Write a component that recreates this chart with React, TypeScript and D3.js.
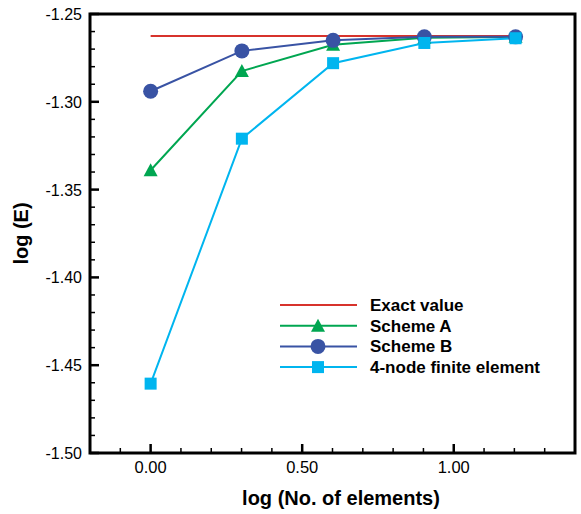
import React, { useEffect, useRef } from "react";
import * as d3 from "d3";

// log10 of number of elements: 1, 2, 4, 8, 16
const logN = [0, 0.301, 0.602, 0.903, 1.204];
const exactValue = [-1.2625, -1.2625, -1.2625, -1.2625, -1.2625];
const schemeA = [-1.339, -1.2825, -1.2675, -1.2635, -1.263];
const schemeB = [-1.294, -1.271, -1.265, -1.263, -1.263];
const fourNode = [-1.4605, -1.321, -1.278, -1.2665, -1.2638];

const yMajorTicks = [-1.5, -1.45, -1.4, -1.35, -1.3, -1.25];
const xMajorTicks = [0, 0.5, 1.0];

const series = [
  { name: "Exact value", values: exactValue, color: "#d7332c", marker: "none" },
  { name: "Scheme A", values: schemeA, color: "#00a651", marker: "triangle" },
  { name: "Scheme B", values: schemeB, color: "#3953a4", marker: "circle" },
  { name: "4-node finite element", values: fourNode, color: "#00b5ef", marker: "square" },
];

const W = 581;
const H = 514;
const FONT = "'Liberation Sans', Arial, Helvetica, sans-serif";

// plain hyphen as minus sign, like the original
const fmt = (d) => d3.format(".2f")(d).replace("\u2212", "-");

const App = () => {
  const svgRef = useRef(null);

  useEffect(() => {
    const svg = d3.select(svgRef.current);
    svg.selectAll("*").remove();

    const left = 90, right = 575, top = 14, bottom = 453;

    const x = d3.scaleLinear().domain([-0.2, 1.4]).range([left, right]);
    const y = d3.scaleLinear().domain([-1.5, -1.25]).range([bottom, top]);

    // minor ticks
    const xMinor = d3.range(-1, 14).map((i) => i / 10).filter((v) => Math.abs(v * 2 - Math.round(v * 2)) > 1e-6);
    const yMinor = d3.range(0, 26).map((i) => -1.5 + i * 0.01).filter((v) => Math.abs(v * 20 - Math.round(v * 20)) > 1e-6);

    const g = svg.append("g");

    g.selectAll("line.xminor").data(xMinor).enter().append("line")
      .attr("x1", (d) => x(d)).attr("x2", (d) => x(d))
      .attr("y1", bottom).attr("y2", bottom - 5)
      .attr("stroke", "#000").attr("stroke-width", 1.5);
    g.selectAll("line.xmajor").data(xMajorTicks).enter().append("line")
      .attr("x1", (d) => x(d)).attr("x2", (d) => x(d))
      .attr("y1", bottom).attr("y2", bottom - 9)
      .attr("stroke", "#000").attr("stroke-width", 2.5);
    g.selectAll("line.yminor").data(yMinor).enter().append("line")
      .attr("x1", left).attr("x2", left + 5)
      .attr("y1", (d) => y(d)).attr("y2", (d) => y(d))
      .attr("stroke", "#000").attr("stroke-width", 1.5);
    g.selectAll("line.ymajor").data(yMajorTicks).enter().append("line")
      .attr("x1", left).attr("x2", left + 9)
      .attr("y1", (d) => y(d)).attr("y2", (d) => y(d))
      .attr("stroke", "#000").attr("stroke-width", 2.5);

    // frame
    g.append("rect")
      .attr("x", left).attr("y", top)
      .attr("width", right - left).attr("height", bottom - top)
      .attr("fill", "none").attr("stroke", "#000").attr("stroke-width", 3);

    // tick labels
    g.selectAll("text.ylab").data(yMajorTicks).enter().append("text")
      .attr("x", left - 8).attr("y", (d) => y(d) + 6)
      .attr("text-anchor", "end")
      .style("font-family", FONT).style("font-size", "16px")
      .text(fmt);
    g.selectAll("text.xlab").data(xMajorTicks).enter().append("text")
      .attr("x", (d) => x(d)).attr("y", bottom + 20)
      .attr("text-anchor", "middle")
      .style("font-family", FONT).style("font-size", "16.5px")
      .text(fmt);

    // axis titles
    g.append("text")
      .attr("x", 341).attr("y", 505)
      .attr("text-anchor", "middle")
      .style("font-family", FONT).style("font-size", "20px").style("font-weight", "bold")
      .text("log (No. of elements)");
    g.append("text")
      .attr("transform", `translate(28,${(top + bottom) / 2}) rotate(-90)`)
      .attr("text-anchor", "middle")
      .style("font-family", FONT).style("font-size", "20px").style("font-weight", "bold")
      .text("log (E)");

    const line = d3.line<number>().x((_, i) => x(logN[i])).y((d) => y(d));

    const drawMarker = (sel, marker, color, cx, cy) => {
      if (marker === "circle") {
        sel.append("circle").attr("cx", cx).attr("cy", cy).attr("r", 7.5).attr("fill", color);
      } else if (marker === "triangle") {
        sel.append("path")
          .attr("d", `M${cx},${cy - 7} L${cx + 7},${cy + 6} L${cx - 7},${cy + 6} Z`)
          .attr("fill", color);
      } else if (marker === "square") {
        sel.append("rect").attr("x", cx - 6).attr("y", cy - 6).attr("width", 12).attr("height", 12).attr("fill", color);
      }
    };

    // draw order: exact, A, B, 4-node on top
    series.forEach((s) => {
      g.append("path")
        .datum(s.values)
        .attr("d", line)
        .attr("fill", "none")
        .attr("stroke", s.color)
        .attr("stroke-width", 2);
    });
    series.forEach((s) => {
      s.values.forEach((v, i) => drawMarker(g, s.marker, s.color, x(logN[i]), y(v)));
    });

    // legend
    const legX1 = 280, legX2 = 357, legY0 = 305, legStep = 20.7;
    series.forEach((s, i) => {
      const ly = legY0 + i * legStep;
      g.append("line")
        .attr("x1", legX1).attr("x2", legX2).attr("y1", ly).attr("y2", ly)
        .attr("stroke", s.color).attr("stroke-width", 2);
      drawMarker(g, s.marker, s.color, (legX1 + legX2) / 2 - 0.5, ly);
      g.append("text")
        .attr("x", 370).attr("y", ly + 6)
        .style("font-family", FONT).style("font-size", "17px").style("font-weight", "bold")
        .text(s.name);
    });
  }, []);

  return <svg ref={svgRef} width={W} height={H} style={{ position: "absolute", left: 0, top: 0 }}></svg>;
};

export default App;
